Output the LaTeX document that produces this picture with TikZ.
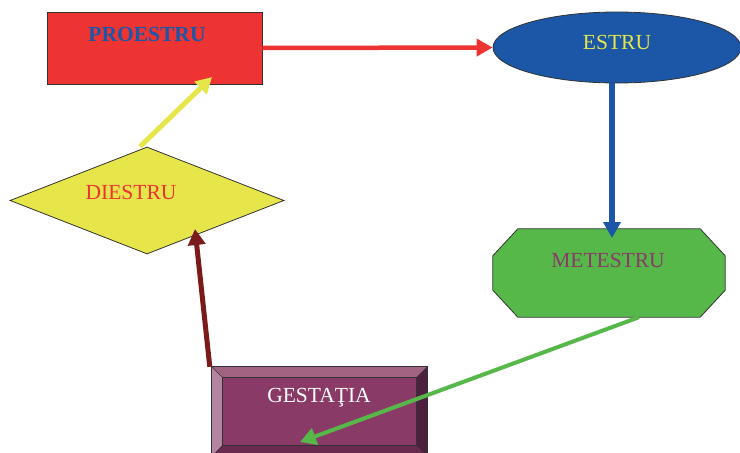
\documentclass[tikz,border=0pt]{standalone}
\usepackage{fontspec}
\setmainfont{Liberation Serif}
\usetikzlibrary{shapes.geometric,arrows.meta}
\definecolor{cred}{HTML}{EE3333}
\definecolor{cblue}{HTML}{1B57A6}
\definecolor{cyel}{HTML}{E6E64A}
\definecolor{cgreen}{HTML}{55B848}
\definecolor{cbrown}{HTML}{7A1A1A}
\definecolor{cface}{HTML}{8A3A66}
\definecolor{ctop}{HTML}{A26282}
\definecolor{cleft}{HTML}{B584A0}
\definecolor{cright}{HTML}{4E2040}
\definecolor{cbot}{HTML}{6A2A50}
\definecolor{ctext}{HTML}{8A3A66}
\tikzset{
  shp/.style={draw=black!80, line width=0.8pt, inner sep=0pt},
  lbl/.style={font=\fontsize{21.5}{24}\selectfont, inner sep=0pt},
  arr/.style={line width=4.5pt, -{Triangle[length=16pt,width=17pt]}},
}
\begin{document}
\begin{tikzpicture}[x=1pt,y=-1pt]
\useasboundingbox (0,0) rectangle (740,453);
% shapes
\node[shp, rectangle, fill=cred, minimum width=215pt, minimum height=72pt] (pro) at (154.5,48) {};
\node[lbl, text=cblue, font=\fontsize{21.5}{24}\selectfont\bfseries] (protxt) at (147,34) {PROESTRU};
\node[shp, ellipse, fill=cblue, minimum width=248pt, minimum height=71pt] (est) at (617,47.5) {};
\node[lbl, text=cyel] (esttxt) at (617,42) {ESTRU};
% octagon
\node[inner sep=0pt, minimum width=232pt, minimum height=88pt] (met) at (609,273) {};
\draw[fill=cgreen, draw=black!80, line width=0.8pt]
  ([xshift=25pt]met.north west) -- ([xshift=-25pt]met.north east)
  -- ([yshift=-27pt]met.north east) -- ([yshift=27pt]met.south east)
  -- ([xshift=-25pt]met.south east) -- ([xshift=25pt]met.south west)
  -- ([yshift=27pt]met.south west) -- ([yshift=-27pt]met.north west) -- cycle;
\node[lbl, text=ctext] (mettxt) at (608,260) {METESTRU};
\node[shp, diamond, fill=cyel, minimum width=274pt, minimum height=107pt] (die) at (147,200.5) {};
\node[lbl, text=cred] (dietxt) at (131,192) {DIESTRU};
% bevel box
\node[inner sep=0pt, minimum width=215pt, minimum height=89pt] (ges) at (319.5,411.5) {};
\coordinate (gi1) at ([xshift=11pt,yshift=-11pt]ges.north west);
\coordinate (gi2) at ([xshift=-11pt,yshift=-11pt]ges.north east);
\coordinate (gi3) at ([xshift=-11pt,yshift=11pt]ges.south east);
\coordinate (gi4) at ([xshift=11pt,yshift=11pt]ges.south west);
\fill[ctop] (ges.north west) -- (ges.north east) -- (gi2) -- (gi1) -- cycle;
\fill[cleft] (ges.north west) -- (gi1) -- (gi4) -- (ges.south west) -- cycle;
\fill[cright] (ges.north east) -- (ges.south east) -- (gi3) -- (gi2) -- cycle;
\fill[cbot] (ges.south west) -- (gi4) -- (gi3) -- (ges.south east) -- cycle;
\fill[cface] (gi1) rectangle (gi3);
\draw[black!80, line width=0.8pt] (ges.north west) rectangle (ges.south east);
\draw[black!80, line width=0.8pt] (gi1) rectangle (gi3);
\draw[black!80, line width=0.6pt] (ges.north west) -- (gi1) (ges.north east) -- (gi2) (ges.south east) -- (gi3) (ges.south west) -- (gi4);
\node[lbl, text=white] (gestxt) at (319,398) {GESTAŢIA};
% connectors
\coordinate (gtip) at (300,442);
\coordinate (ptip) at (212,77);
\coordinate (dtip) at (195,229);
\coordinate (btip) at (612,238);
\draw[arr, cred] (pro.east) -- (est.west);
\draw[arr, cblue, line width=5.5pt] ([xshift=-5pt]est.south) -- (btip);
\draw[arr, cgreen, line width=4pt] ([xshift=30pt]met.south) -- (gtip);
\draw[arr, cbrown, line width=5pt] ([xshift=-2pt]ges.north west) -- (dtip);
\draw[arr, cyel, line width=5pt] ([xshift=-7pt]die.north) -- (ptip);
\end{tikzpicture}
\end{document}
